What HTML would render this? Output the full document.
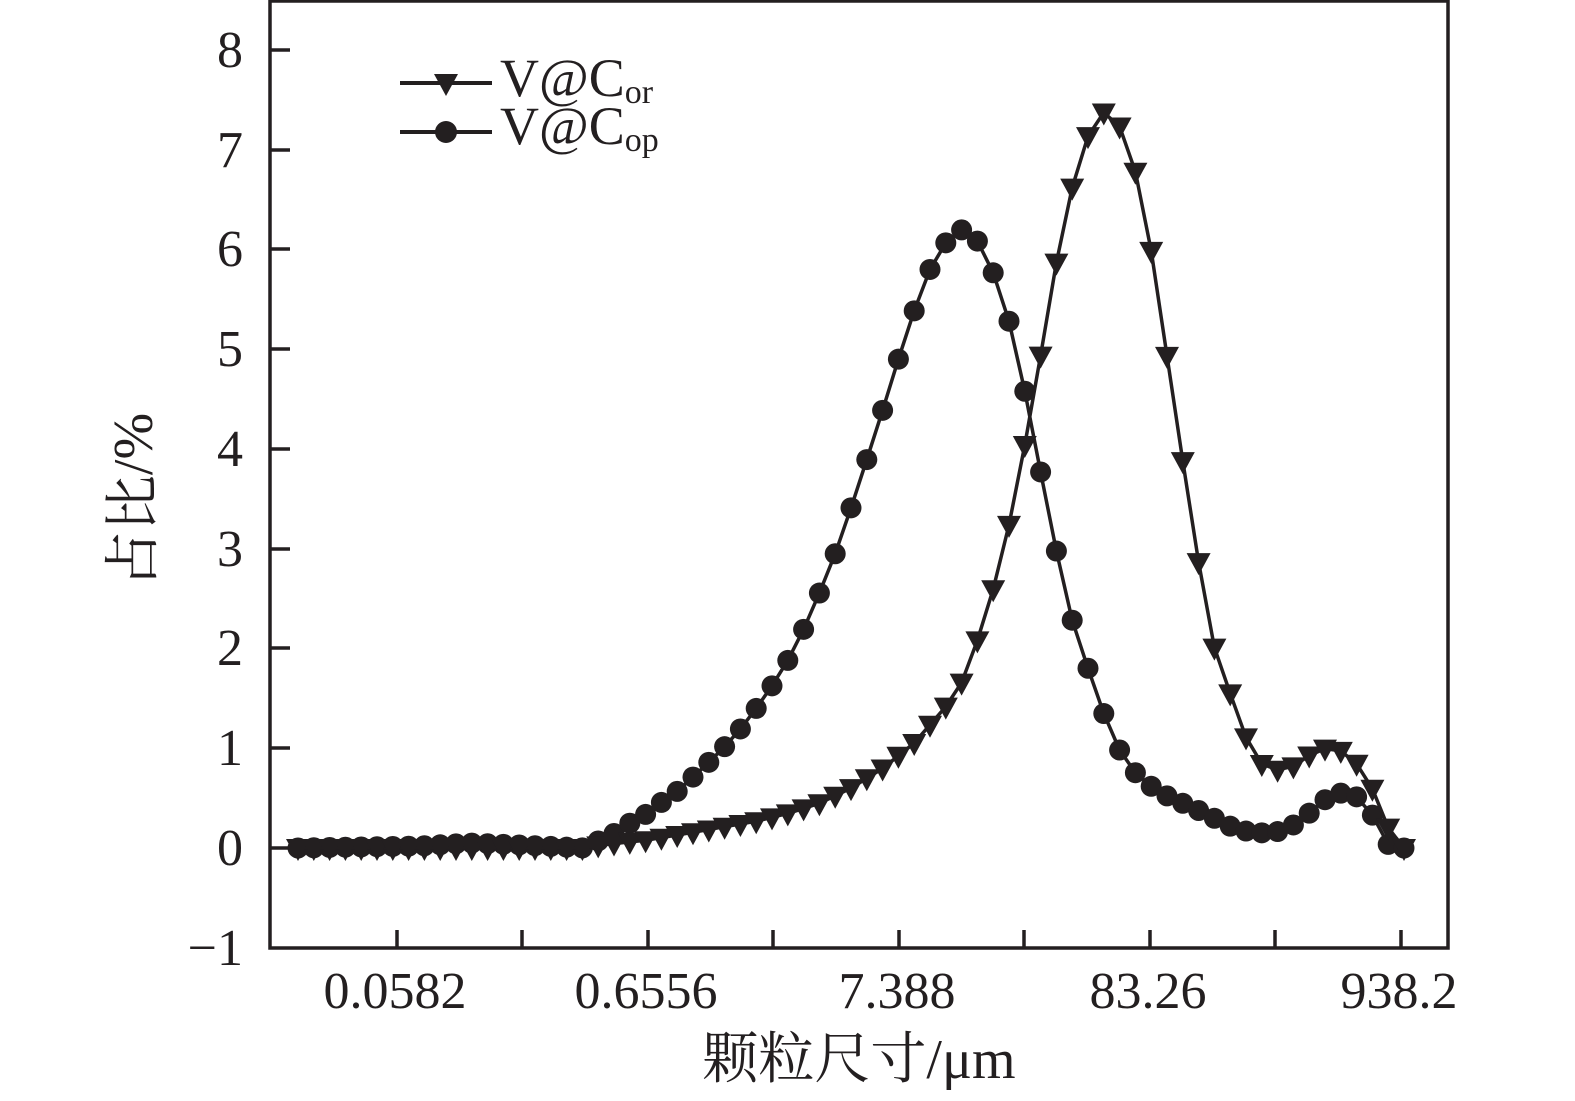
<!DOCTYPE html>
<html><head><meta charset="utf-8"><style>body{margin:0;background:#fff}svg{display:block}</style></head>
<body>
<svg id="s" width="1575" height="1101" viewBox="0 0 1575 1101" xmlns="http://www.w3.org/2000/svg" font-family="'Liberation Serif','Noto Serif CJK SC',serif" fill="#231f20">
<rect x="270" y="1" width="1178" height="947" fill="none" stroke="#231f20" stroke-width="3.5"/>
<g stroke="#231f20" stroke-width="3.5">
<line x1="270" y1="50" x2="290" y2="50"/><line x1="270" y1="150" x2="290" y2="150"/><line x1="270" y1="249" x2="290" y2="249"/><line x1="270" y1="349" x2="290" y2="349"/><line x1="270" y1="449" x2="290" y2="449"/><line x1="270" y1="549" x2="290" y2="549"/><line x1="270" y1="648" x2="290" y2="648"/><line x1="270" y1="748" x2="290" y2="748"/><line x1="270" y1="848" x2="290" y2="848"/>
<line x1="397" y1="948" x2="397" y2="930"/><line x1="522" y1="948" x2="522" y2="930"/><line x1="648" y1="948" x2="648" y2="930"/><line x1="773" y1="948" x2="773" y2="930"/><line x1="899" y1="948" x2="899" y2="930"/><line x1="1024" y1="948" x2="1024" y2="930"/><line x1="1150" y1="948" x2="1150" y2="930"/><line x1="1275" y1="948" x2="1275" y2="930"/><line x1="1401" y1="948" x2="1401" y2="930"/>
</g>
<g font-size="52" text-anchor="end">
<text x="243" y="67">8</text><text x="243" y="167">7</text><text x="243" y="266">6</text><text x="243" y="366">5</text><text x="243" y="466">4</text><text x="243" y="566">3</text><text x="243" y="665">2</text><text x="243" y="765">1</text><text x="243" y="865">0</text><text x="243" y="965">−1</text>
</g>
<g font-size="52" text-anchor="middle">
<text x="395" y="1008">0.0582</text><text x="646" y="1008">0.6556</text><text x="897" y="1008">7.388</text><text x="1148" y="1008">83.26</text><text x="1399" y="1008">938.2</text>
<text x="859" y="1078" font-size="56">颗粒尺寸/μm</text>
<text transform="translate(152,500) rotate(-90)" font-size="56">占比/%</text>
</g>
<g id="series"></g>
<line x1="400" y1="83" x2="492" y2="83" stroke="#231f20" stroke-width="4"/>
<polygon points="434,74 458,74 446,96"/>
<line x1="400" y1="132" x2="492" y2="132" stroke="#231f20" stroke-width="4"/>
<circle cx="446" cy="132" r="11"/>
<text x="500" y="96" font-size="54">V@C<tspan font-size="34" dy="7">or</tspan></text>
<text x="500" y="144" font-size="54">V@C<tspan font-size="34" dy="7">op</tspan></text>
</svg>
<script>
var op=[[298,0],[420,0.02],[470,0.05],[520,0.03],[585,0],[600,0.08],[615,0.15],[630,0.25],[648,0.35],[663,0.47],[679,0.58],[694,0.72],[710,0.87],[726,1.03],[741,1.2],[757,1.41],[773,1.64],[789,1.9],[804,2.2],[820,2.57],[836,2.97],[851,3.41],[867,3.9],[883,4.4],[899,4.92],[914,5.38],[930,5.8],[946,6.07],[962,6.2],[978,6.08],[994,5.75],[1010,5.25],[1025,4.57],[1040,3.8],[1055,3.04],[1071,2.32],[1092,1.68],[1108,1.23],[1123,0.91],[1139,0.71],[1155,0.59],[1171,0.5],[1187,0.43],[1202,0.36],[1218,0.28],[1234,0.2],[1250,0.16],[1265,0.15],[1282,0.17],[1297,0.25],[1313,0.38],[1328,0.51],[1344,0.56],[1360,0.5],[1376,0.28],[1390,0],[1404,0]];
var or=[[298,0],[585,0],[600,0.03],[648,0.08],[700,0.17],[757,0.27],[789,0.35],[820,0.45],[851,0.6],[883,0.8],[914,1.05],[946,1.42],[965,1.71],[978,2.1],[994,2.62],[1010,3.28],[1025,4.05],[1040,4.9],[1055,5.8],[1071,6.58],[1087,7.12],[1103,7.38],[1119,7.25],[1135,6.8],[1151,6.0],[1166,5.0],[1182,3.93],[1198,2.9],[1213,2.05],[1235,1.41],[1250,1.0],[1265,0.8],[1281,0.78],[1297,0.83],[1312,0.95],[1329,1.01],[1345,0.96],[1361,0.8],[1377,0.51],[1392,0.1],[1404,0]];
function f(c,x){for(var i=0;i<c.length-1;i++){if(x<=c[i+1][0]){var t=(x-c[i][0])/(c[i+1][0]-c[i][0]);return c[i][1]+t*(c[i+1][1]-c[i][1]);}}return c[c.length-1][1];}
var Y=function(v){return 848-v*99.75;};
var g=document.getElementById('series'),h='';
function ser(c,tri){var pts=[];for(var i=0;i<=70;i++){var x=298+i*(1404-298)/70;pts.push([x,Y(f(c,x))]);}
h+='<polyline fill="none" stroke="#231f20" stroke-width="3.5" points="'+pts.map(function(p){return p[0].toFixed(1)+','+p[1].toFixed(1)}).join(' ')+'"/>';
pts.forEach(function(p){if(tri){h+='<polygon points="'+(p[0]-12)+','+(p[1]-9)+' '+(p[0]+12)+','+(p[1]-9)+' '+p[0]+','+(p[1]+13)+'"/>';}else{h+='<circle cx="'+p[0]+'" cy="'+p[1]+'" r="10.5"/>';}});}
ser(op,false);ser(or,true);
g.innerHTML=h;
</script>
</body></html>
